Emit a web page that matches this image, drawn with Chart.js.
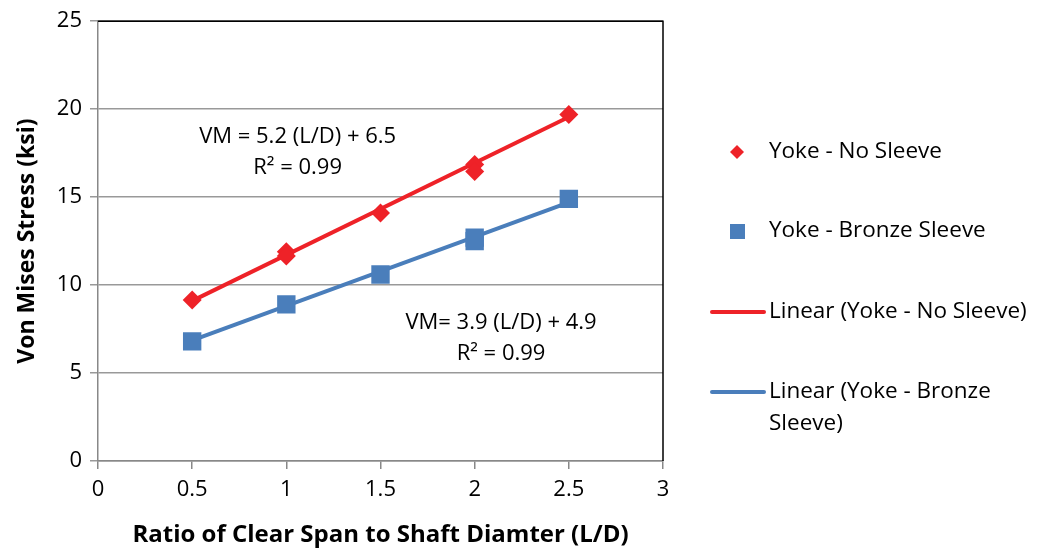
<!DOCTYPE html>
<html>
<head>
<meta charset="utf-8">
<script src="https://cdn.jsdelivr.net/npm/chart.js@4"></script>
<style>
  html, body { margin: 0; padding: 0; background: #fff; }
  #wrap { width: 1042px; height: 554px; }
</style>
</head>
<body>
<div id="wrap"><canvas id="chart" width="1042" height="554"></canvas></div>
<script>
// data
const ratioNoSleeve = [0.5, 1, 1, 1.5, 2, 2, 2.5];
const stressNoSleeve = [9.15, 11.9, 11.65, 14.1, 16.85, 16.45, 19.7];
const ratioBronze = [0.5, 1, 1.5, 2, 2, 2.5];
const stressBronze = [6.8, 8.9, 10.6, 12.7, 12.5, 14.9];
const trendX = [0.5, 2.5];
const trendNoSleeve = [9.1, 19.55];
const trendBronze = [6.85, 14.7];
const xTicks = [0, 0.5, 1, 1.5, 2, 2.5, 3];
const yTicks = [0, 5, 10, 15, 20, 25];

const RED = "#ee2228";
const BLUE = "#4a7ebb";
const FONT = "'Open Sans', sans-serif";

const toPoints = (xs, ys) => xs.map((x, i) => ({ x: x, y: ys[i] }));

// plot frame (black top/right), equation labels and the legend
const extras = {
  id: "extras",
  afterDraw: (chart) => {
    const ctx = chart.ctx;
    const a = chart.chartArea;
    const sx = chart.scales.x;
    const sy = chart.scales.y;
    ctx.save();
    ctx.strokeStyle = "#000";
    ctx.lineWidth = 1.5;
    ctx.beginPath();
    ctx.moveTo(a.left, a.top);
    ctx.lineTo(a.right, a.top);
    ctx.lineTo(a.right, a.bottom);
    ctx.stroke();

    ctx.fillStyle = "#000";
    ctx.font = "22px " + FONT;
    ctx.textAlign = "center";
    ctx.textBaseline = "middle";
    ctx.fillText("VM = 5.2 (L/D) + 6.5", sx.getPixelForValue(1.06), sy.getPixelForValue(18.45));
    ctx.fillText("R² = 0.99", sx.getPixelForValue(1.06), sy.getPixelForValue(16.65));
    ctx.fillText("VM= 3.9 (L/D) + 4.9", sx.getPixelForValue(2.14), sy.getPixelForValue(7.88));
    ctx.fillText("R² = 0.99", sx.getPixelForValue(2.14), sy.getPixelForValue(6.1));

    // legend
    ctx.textAlign = "left";
    const tx = 769;
    ctx.fillStyle = RED;
    ctx.beginPath();
    ctx.moveTo(737, 145);
    ctx.lineTo(744, 152);
    ctx.lineTo(737, 159);
    ctx.lineTo(730, 152);
    ctx.closePath();
    ctx.fill();
    ctx.fillStyle = BLUE;
    ctx.fillRect(730, 224, 15, 15);
    ctx.lineWidth = 4;
    ctx.lineCap = "round";
    ctx.strokeStyle = RED;
    ctx.beginPath();
    ctx.moveTo(712, 312);
    ctx.lineTo(764, 312);
    ctx.stroke();
    ctx.strokeStyle = BLUE;
    ctx.beginPath();
    ctx.moveTo(712, 392);
    ctx.lineTo(764, 392);
    ctx.stroke();
    ctx.fillStyle = "#000";
    ctx.font = "22.5px " + FONT;
    ctx.fillText("Yoke - No Sleeve", tx, 152);
    ctx.fillText("Yoke - Bronze Sleeve", tx, 231);
    ctx.fillText("Linear (Yoke - No Sleeve)", tx, 312);
    ctx.fillText("Linear (Yoke - Bronze", tx, 392);
    ctx.fillText("Sleeve)", tx, 424);
    ctx.restore();
  },
};

new Chart(document.getElementById("chart"), {
  type: "scatter",
  data: {
    datasets: [
      {
        label: "Linear (Yoke - No Sleeve)",
        data: toPoints(trendX, trendNoSleeve),
        showLine: true,
        borderColor: RED,
        borderWidth: 4,
        pointRadius: 0,
        order: 3,
      },
      {
        label: "Linear (Yoke - Bronze Sleeve)",
        data: toPoints(trendX, trendBronze),
        showLine: true,
        borderColor: BLUE,
        borderWidth: 4,
        pointRadius: 0,
        order: 4,
      },
      {
        label: "Yoke - No Sleeve",
        data: toPoints(ratioNoSleeve, stressNoSleeve),
        pointStyle: "rectRot",
        pointRadius: 9.5,
        backgroundColor: RED,
        borderColor: RED,
        borderWidth: 0,
        order: 1,
      },
      {
        label: "Yoke - Bronze Sleeve",
        data: toPoints(ratioBronze, stressBronze),
        pointStyle: "rect",
        pointRadius: 13,
        backgroundColor: BLUE,
        borderColor: BLUE,
        borderWidth: 0,
        order: 2,
      },
    ],
  },
  options: {
    responsive: false,
    animation: false,
    layout: { padding: { left: 10, top: 17, right: 379, bottom: 0 } },
    plugins: {
      legend: { display: false },
      tooltip: { enabled: false },
    },
    scales: {
      x: {
        type: "linear",
        min: 0,
        max: 3,
        afterBuildTicks: (s) => { s.ticks = xTicks.map((v) => ({ value: v })); },
        afterFit: (s) => { s.height = 93; },
        ticks: {
          color: "#000",
          font: { family: FONT, size: 22 },
          padding: 8,
          callback: (v) => String(v),
          maxRotation: 0,
        },
        grid: {
          drawOnChartArea: false,
          color: "#888",
          lineWidth: 1.5,
          tickLength: 8,
        },
        border: { color: "#888", width: 1.5 },
        title: {
          display: true,
          text: "Ratio of Clear Span to Shaft Diamter (L/D)",
          color: "#000",
          font: { family: FONT, size: 24, weight: "bold" },
          padding: { top: 2 },
        },
      },
      y: {
        type: "linear",
        min: 0,
        max: 25,
        afterBuildTicks: (s) => { s.ticks = yTicks.map((v) => ({ value: v })); },
        afterFit: (s) => { s.width = 88; },
        ticks: {
          color: "#000",
          font: { family: FONT, size: 22 },
          padding: 8,
        },
        grid: {
          color: "#999",
          lineWidth: 1.5,
          tickLength: 8,
        },
        border: { color: "#888", width: 1.5 },
        title: {
          display: true,
          text: "Von Mises Stress (ksi)",
          color: "#000",
          font: { family: FONT, size: 23, weight: "bold" },
          padding: { bottom: 4 },
        },
      },
    },
  },
  plugins: [extras],
});
</script>
</body>
</html>
